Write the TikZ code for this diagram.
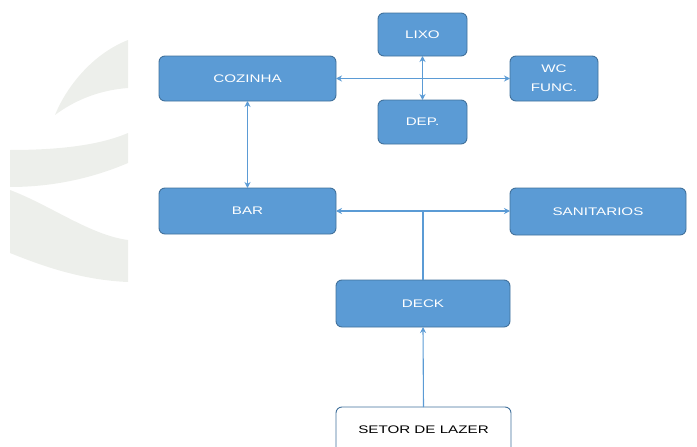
\documentclass[tikz,border=0pt]{standalone}
\usepackage{fontspec}
\newfontfamily\boxfont[FakeStretch=1.38]{Liberation Sans}
\usetikzlibrary{arrows.meta}
\definecolor{boxfill}{HTML}{5B9BD5}
\definecolor{boxline}{HTML}{41719C}
\definecolor{arrowcol}{HTML}{5B9BD5}
\definecolor{wmark}{RGB}{237,239,235}
\tikzset{
  blk/.style={draw=boxline, fill=boxfill, line width=0.9pt, rounded corners=6pt,
    text=white, font=\boxfont\fontsize{11}{19}\selectfont, align=center,
    inner sep=0pt, outer sep=0pt},
  wblk/.style={blk, fill=white, text=black},
  conn/.style={draw=arrowcol, line width=1.1pt},
  tip/.style={-{Stealth[length=6pt,width=6pt]}},
  tips/.style={{Stealth[length=6pt,width=6pt]}-{Stealth[length=6pt,width=6pt]}}
}
\begin{document}
\begin{tikzpicture}[x=1pt,y=-1pt]
\useasboundingbox (0,0) rectangle (697,447);
% watermark
\begin{scope}
\clip (10,20) rectangle (128,300);
\fill[wmark] (128,40) .. controls (90,55) and (65,90) .. (55,115) .. controls (75,100) and (100,90) .. (128,88) -- cycle;
\fill[wmark] (10,150) .. controls (60,150) and (100,145) .. (128,133) -- (128,163) .. controls (100,175) and (60,187) .. (10,187) -- cycle;
\fill[wmark] (10,190) .. controls (50,205) and (90,235) .. (128,240) -- (128,282) .. controls (80,280) and (40,265) .. (10,253) -- cycle;
\end{scope}
% nodes
\node[blk, minimum width=89pt, minimum height=43pt] (lixo) at (422.5,34.5) {LIXO};
\node[blk, minimum width=89pt, minimum height=44pt] (dep) at (422.5,122) {DEP.};
\node[blk, minimum width=88pt, minimum height=45pt] (wc) at (554,78.5) {WC\\FUNC.};
\node[blk, minimum width=177pt, minimum height=45pt] (coz) at (247.5,78.5) {COZINHA};
\node[blk, minimum width=177pt, minimum height=46pt] (bar) at (247.5,211) {BAR};
\node[blk, minimum width=176pt, minimum height=47pt] (san) at (598,211.5) {SANITARIOS};
\node[blk, minimum width=174pt, minimum height=47pt] (deck) at (423,303.5) {DECK};
\node[wblk, minimum width=175pt, minimum height=46pt] (setor) at (423.5,430) {SETOR DE LAZER};
\coordinate (junc) at (423,211);
% connectors
\draw[conn, tips] (coz.east) -- (wc.west);
\draw[conn, tips] (lixo.south) -- (dep.north);
\draw[conn, tips] (coz.south) -- (bar.north);
\draw[conn, tips] (bar.east) -- (san.west |- bar.east);
\draw[conn] (deck.north) -- (junc);
\draw[conn, tip] (setor.north) -- (deck.south);
\end{tikzpicture}
\end{document}
